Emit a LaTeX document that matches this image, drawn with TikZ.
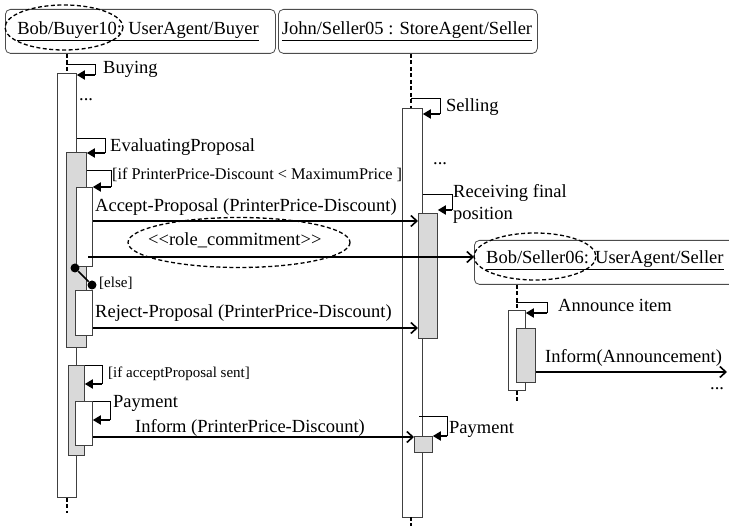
\documentclass[tikz,border=0pt]{standalone}
\usepackage{fontspec}
\setmainfont{Liberation Serif}
\usetikzlibrary{arrows.meta,positioning}

\tikzset{
  agentbox/.style={draw=black!70, rounded corners=5pt, line width=0.8pt, minimum height=44pt, inner sep=0pt, anchor=north west},
  actbar/.style={draw=black!75, fill=white, line width=0.8pt, inner sep=0pt, anchor=north west},
  busybar/.style={actbar, fill=black!15},
  lifeline/.style={line width=1.6pt, dash pattern=on 4pt off 2.5pt},
  msg/.style={line width=1.8pt, -{Straight Barb[length=6pt,width=11pt,line width=1.6pt]}},
  selfmsg/.style={line width=0.8pt},
  selftip/.style={line width=1.8pt, -{Triangle[length=8pt,width=9pt]}},
  txt/.style={font=\fontsize{18.5}{20}\selectfont, inner sep=0pt, anchor=base west},
  smalltxt/.style={font=\fontsize{15}{17}\selectfont, inner sep=0pt, anchor=base west},
  roleoval/.style={draw, line width=1.3pt, dash pattern=on 4pt off 2.5pt},
  breakdot/.style={circle, fill, inner sep=0pt, minimum size=9pt}
}

% self call: from, to, x of the loop
\newcommand{\selfcall}[3]{%
  \draw[selfmsg] (#1) -| (#3,0 |- #2);
  \draw[selftip] (#3,0 |- #2) -- (#2);}

\begin{document}
\begin{tikzpicture}[x=1pt, y=-1pt]
  \useasboundingbox (0,0) rectangle (729,526);

  % agents
  \node[agentbox, minimum width=270pt] (buyerBox) at (5,9) {};
  \node[txt, anchor=center] (buyerName) at (138,31) {\underline{Bob/Buyer10: UserAgent/Buyer}};
  \node[agentbox, minimum width=259pt] (sellerBox) at (278,9) {};
  \node[txt, anchor=center] (sellerName) at (407,31) {\underline{John/Seller05 : StoreAgent/Seller}};
  \node[agentbox, minimum width=270pt] (bobSellerBox) at (474,240) {};
  \node[txt, anchor=west] (bobSellerName) at (486,260) {\underline{Bob/Seller06: UserAgent/Seller}};

  \draw[roleoval] (64,27.5) ellipse [x radius=59, y radius=22.5];
  \draw[roleoval] (535,256.5) ellipse [x radius=61, y radius=23.5];

  % activations
  \node[actbar, minimum width=19pt, minimum height=424pt] (buyerAct) at (57,73) {};
  \node[busybar, minimum width=20pt, minimum height=195pt] (buyerEval) at (66,152) {};
  \node[actbar, minimum width=16pt, minimum height=79pt] (buyerAccept) at (76,187) {};
  \node[actbar, minimum width=17pt, minimum height=45pt] (buyerReject) at (75,290) {};
  \node[busybar, minimum width=16pt, minimum height=90pt] (buyerSent) at (68,365) {};
  \node[actbar, minimum width=17pt, minimum height=44pt] (buyerPay) at (75,401) {};

  \node[actbar, minimum width=20pt, minimum height=409pt] (sellerAct) at (402,108) {};
  \node[busybar, minimum width=19pt, minimum height=125pt] (sellerRecv) at (418,213) {};
  \node[busybar, minimum width=18pt, minimum height=16pt] (sellerPay) at (414,436) {};

  \node[actbar, minimum width=17pt, minimum height=80pt] (bobSellerAct) at (508,310) {};
  \node[busybar, minimum width=19pt, minimum height=54pt] (bobSellerAnn) at (516,328) {};

  % lifelines
  \draw[lifeline] (buyerBox.south -| buyerAct) -- (buyerAct.north);
  \draw[lifeline] (buyerAct.south) -- ++(0,15);
  \draw[lifeline] (sellerBox.south -| 411,0) -- (411,108);
  \draw[lifeline] (411,517) -- (411,526);
  \draw[lifeline] (bobSellerBox.south -| bobSellerAct) -- (bobSellerAct.north);
  \draw[lifeline] (bobSellerAct.south) -- ++(0,10);

  % self calls
  \coordinate (buyingFrom) at (66,64);
  \coordinate (buyingTo) at (buyerAct.east |- 0,75);
  \selfcall{buyingFrom}{buyingTo}{95}
  \node[txt] (buyingLbl) at (103,74) {Buying};
  \node[txt] (buyerDots) at (79,101) {...};

  \coordinate (evalFrom) at (buyerAct.east |- 0,138);
  \coordinate (evalTo) at (buyerEval.east |- 0,153);
  \selfcall{evalFrom}{evalTo}{105}
  \node[txt] (evalLbl) at (110,152) {EvaluatingProposal};

  \coordinate (ifFrom) at (buyerEval.east |- 0,170);
  \coordinate (ifTo) at (buyerAccept.north east);
  \selfcall{ifFrom}{ifTo}{111}
  \node[smalltxt, font=\fontsize{16.3}{18}\selectfont] (ifLbl) at (112,180) {[if PrinterPrice-Discount < MaximumPrice ]};

  \coordinate (sellFrom) at (411,98);
  \coordinate (sellTo) at (sellerAct.east |- 0,114);
  \selfcall{sellFrom}{sellTo}{440}
  \node[txt] (sellLbl) at (446,112) {Selling};
  \node[txt] (sellerDots) at (433,165) {...};

  \coordinate (recvFrom) at (sellerAct.east |- 0,194);
  \coordinate (recvTo) at (sellerRecv.east |- 0,210);
  \selfcall{recvFrom}{recvTo}{452}
  \node[txt] (recvLbl) at (453,198) {Receiving final};
  \node[txt] (recvLbl2) at (453,220) {position};

  \coordinate (annFrom) at (516,302);
  \coordinate (annTo) at (bobSellerAct.east |- 0,313);
  \selfcall{annFrom}{annTo}{547}
  \node[txt] (annLbl) at (558,312) {Announce item};

  \coordinate (sentFrom) at (buyerSent.north east);
  \coordinate (sentTo) at (buyerSent.east |- 0,384);
  \selfcall{sentFrom}{sentTo}{102}
  \node[smalltxt] (sentLbl) at (108,378) {[if acceptProposal sent]};

  \coordinate (bpayFrom) at (buyerPay.north east);
  \coordinate (bpayTo) at (buyerPay.east |- 0,420);
  \selfcall{bpayFrom}{bpayTo}{110}
  \node[txt] (bpayLbl) at (113,408) {Payment};

  \coordinate (spayFrom) at (419,416);
  \coordinate (spayTo) at (sellerPay.east |- 0,436);
  \selfcall{spayFrom}{spayTo}{447}
  \node[txt] (spayLbl) at (449,434) {Payment};

  % messages
  \draw[msg] (buyerAccept.east |- 0,221) -- (sellerRecv.west |- 0,221);
  \node[txt] (acceptLbl) at (95,212) {Accept-Proposal (PrinterPrice-Discount)};

  \draw[roleoval] (239,242.5) ellipse [x radius=111, y radius=25];
  \node[txt] (roleLbl) at (148,246) {<\kern0pt<role\_commitment>\kern0pt>};
  \draw[msg] (88,257) -- (bobSellerBox.west |- 0,257);

  \node[breakdot] (breakA) at (75,268) {};
  \node[breakdot] (breakB) at (92,285) {};
  \draw[line width=1.5pt] (breakA) -- (breakB);
  \node[smalltxt] (elseLbl) at (99,288) {[else]};

  \draw[msg] (buyerReject.east |- 0,328) -- (sellerRecv.west |- 0,328);
  \node[txt] (rejectLbl) at (95,318) {Reject-Proposal (PrinterPrice-Discount)};

  \draw[msg] (buyerPay.east |- 0,437) -- (sellerPay.west |- 0,437);
  \node[txt] (informLbl) at (135,433) {Inform (PrinterPrice-Discount)};

  \draw[msg] (bobSellerAnn.east |- 0,372) -- (727,372);
  \node[txt] (annInformLbl) at (545,363) {Inform(Announcement)};
  \node[txt] (annDots) at (710,390) {...};
\end{tikzpicture}
\end{document}
